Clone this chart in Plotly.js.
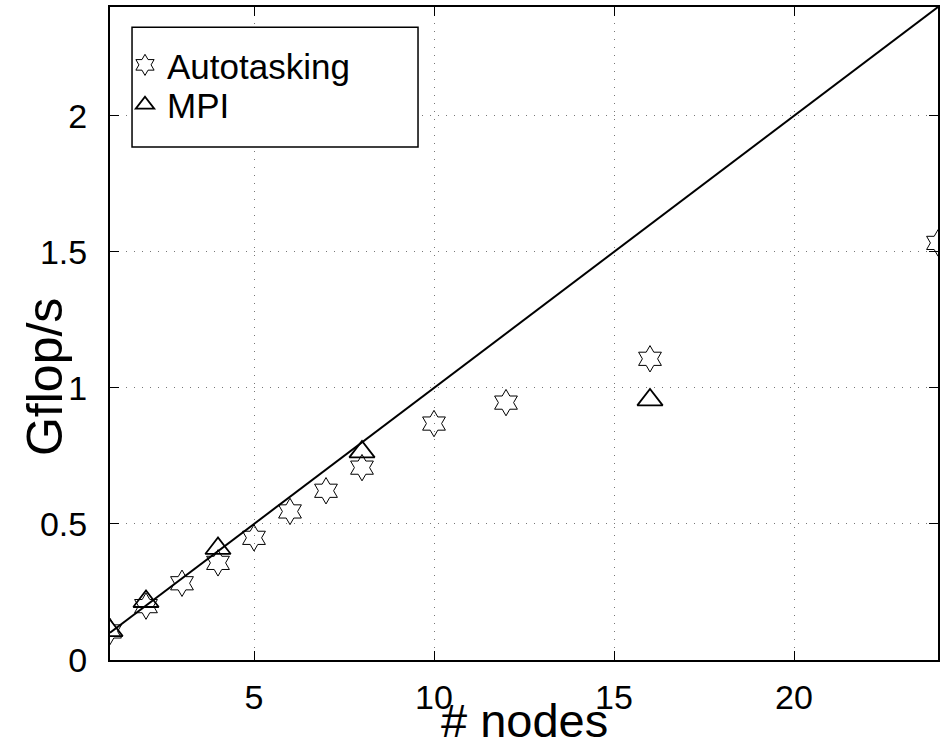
<!DOCTYPE html>
<html>
<head>
<meta charset="utf-8">
<script src="https://cdn.plot.ly/plotly-3.0.1.min.js"></script>
<style>html,body{margin:0;padding:0;background:#fff;}#plot{width:950px;height:746px;}</style>
</head>
<body>
<div id="plot"></div>
<script>
const autoNodes = [1, 2, 3, 4, 5, 6, 7, 8, 10, 12, 16, 24];
const autoGflops = [0.105, 0.198, 0.282, 0.357, 0.449, 0.546, 0.622, 0.707, 0.869, 0.946, 1.107, 1.533];
const mpiNodes = [1, 2, 4, 8, 16];
const mpiGflops = [0.108, 0.215, 0.41, 0.765, 0.956];
const idealNodes = [1, 24];
const idealGflops = [0.1, 2.4];
const xTicks = [5, 10, 15, 20];
const yTicks = [0, 0.5, 1, 1.5, 2];
const xTitle = '# nodes';
const yTitle = 'Gflop/s';

const font = 'Liberation Sans, Arial, Helvetica, sans-serif';
const data = [
  {x: idealNodes, y: idealGflops, mode: 'lines', line: {color: '#000', width: 2}, showlegend: false, hoverinfo: 'skip'},
  {x: autoNodes, y: autoGflops, mode: 'markers', name: 'Autotasking', legend: 'legend',
   marker: {symbol: 'hexagram-open', size: 20, color: '#000', line: {color: '#000', width: 1}}},
  {x: mpiNodes, y: mpiGflops, mode: 'markers', name: 'MPI', legend: 'legend2',
   marker: {symbol: 'triangle-up-open', size: 22, color: '#000', line: {color: '#000', width: 1.8}}}
];
const axisCommon = {
  showline: true, linecolor: '#000', linewidth: 2, mirror: 'ticks',
  ticks: 'inside', ticklen: 9, tickcolor: '#000', tickwidth: 1,
  showgrid: true, gridcolor: '#777', griddash: '1px,7px', gridwidth: 1,
  zeroline: false, tickfont: {family: font, size: 34, color: '#000'}
};
const legendCommon = {
  xanchor: 'left', yanchor: 'middle',
  borderwidth: 0, bgcolor: 'rgba(0,0,0,0)',
  font: {family: font, size: 35, color: '#000'},
  itemwidth: 34, tracegroupgap: 0
};
const layout = {
  width: 950, height: 746,
  margin: {l: 110, r: 12, t: 7, b: 86},
  paper_bgcolor: '#fff', plot_bgcolor: '#fff',
  xaxis: Object.assign({}, axisCommon, {
    range: [1, 24], tickvals: xTicks, ticktext: xTicks.map(String), ticklabelstandoff: 6
  }),
  yaxis: Object.assign({}, axisCommon, {
    range: [0, 2.4], tickvals: yTicks, ticktext: yTicks.map(String), ticklabelstandoff: 14
  }),
  annotations: [
    {text: xTitle, xref: 'paper', yref: 'paper', x: 0.5, y: -0.093, xanchor: 'center', yanchor: 'middle',
     showarrow: false, font: {family: font, size: 47, color: '#000'}},
    {text: yTitle, xref: 'paper', yref: 'y', x: -0.0785, y: 1.04, xanchor: 'center', yanchor: 'middle',
     textangle: -90, showarrow: false, font: {family: font, size: 50, color: '#000'}}
  ],
  shapes: [{type: 'rect', xref: 'paper', yref: 'paper', x0: 0.0266, x1: 0.372, y0: 0.7856, y1: 0.969,
    line: {color: '#000', width: 1.5}, fillcolor: '#fff', layer: 'above'}],
  legend: Object.assign({}, legendCommon, {x: 0.0157, y: 0.911}),
  legend2: Object.assign({}, legendCommon, {x: 0.0157, y: 0.85}),
  showlegend: true
};
Plotly.newPlot('plot', data, layout, {displayModeBar: false, staticPlot: true});
</script>
</body>
</html>
